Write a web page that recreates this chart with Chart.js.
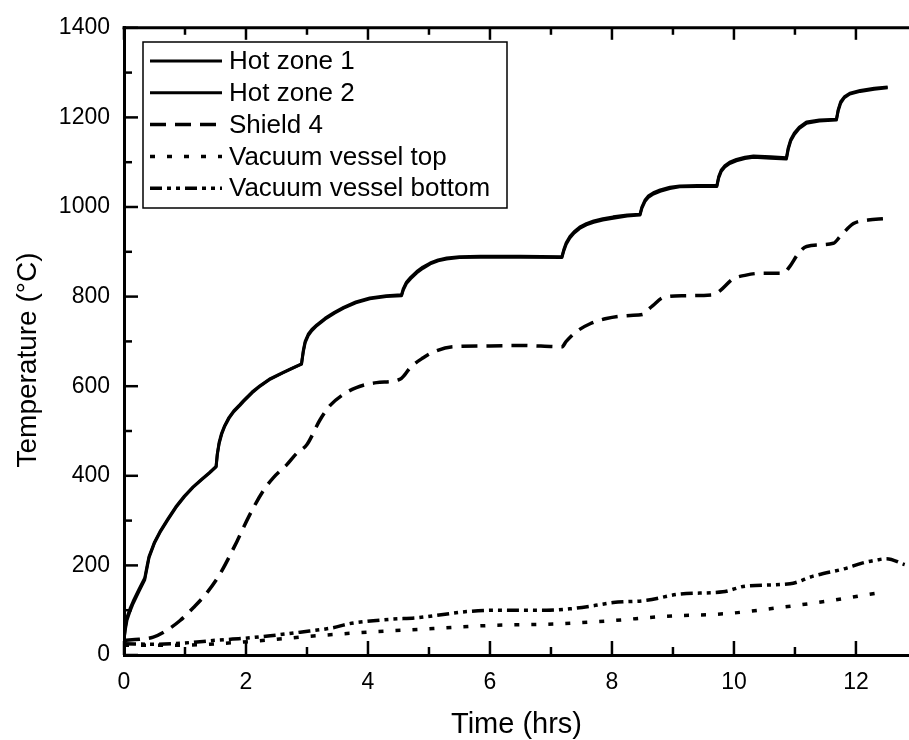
<!DOCTYPE html>
<html><head><meta charset="utf-8">
<script src="https://cdn.jsdelivr.net/npm/chart.js@4/dist/chart.umd.min.js"></script>
<style>html,body{margin:0;padding:0;background:#fff}#wrap{width:909px;height:740px}</style>
</head><body><div id="wrap"><canvas id="c" width="909" height="740"></canvas></div>
<script>
// ---- data (time in hrs, temperature in °C) ----
const seriesNames = ["Hot zone 1", "Hot zone 2", "Shield 4", "Vacuum vessel top", "Vacuum vessel bottom"];

const hotZoneTime = [0,0.02,0.05,0.1,0.15,0.25,0.34,0.38,0.41,0.5,0.6,0.72,0.85,0.99,1.13,1.27,1.4,1.51,1.53,1.56,1.6,1.65,1.72,1.8,1.9,1.96,2.1,2.23,2.4,2.61,2.75,2.91,2.94,2.97,3.02,3.08,3.16,3.3,3.45,3.6,3.8,4.03,4.3,4.55,4.58,4.63,4.7,4.8,4.9,5.02,5.15,5.29,5.5,5.84,6.5,7.18,7.21,7.25,7.31,7.38,7.47,7.58,7.7,7.85,8.02,8.25,8.46,8.49,8.54,8.6,8.68,8.79,8.95,9.11,9.4,9.72,9.75,9.79,9.85,9.93,10.04,10.18,10.32,10.6,10.86,10.89,10.93,10.99,11.07,11.19,11.4,11.68,11.71,11.75,11.81,11.9,12.07,12.3,12.52];
const hz1Temp = [30,60,85,104,120,148,172,200,220,252,278,304,331,355,375,392,407,421,450,475,495,512,530,545,559,568,587,601,617,631,640,650,680,700,716,727,737,752,765,776,788,797,802,804,818,832,843,856,866,875,882,886,889,890,890,889,905,920,934,945,955,963,969,974,978,982,984,1000,1015,1025,1032,1038,1044,1047,1048,1048,1068,1082,1092,1100,1106,1111,1114,1112,1110,1132,1150,1165,1178,1190,1194,1196,1218,1235,1246,1254,1260,1265,1268];
const hz2Temp = [36,55,78,98,115,143,168,196,217,250,276,302,329,353,374,391,406,420,447,472,492,510,528,543,557,566,585,600,616,630,639,649,677,697,713,724,735,750,763,774,786,795,800,802,815,829,840,853,863,873,880,884,887,888,888,887,902,917,931,942,952,960,966,971,975,980,982,997,1012,1022,1029,1035,1041,1045,1046,1046,1065,1079,1089,1097,1103,1108,1111,1109,1107,1129,1147,1162,1175,1187,1192,1194,1215,1232,1244,1252,1258,1263,1266];

const shieldTime = [0,0.25,0.48,0.7,0.92,1.14,1.36,1.57,1.85,2.05,2.28,2.45,2.67,2.83,3.0,3.21,3.38,3.6,3.81,4.14,4.52,4.6,4.69,4.9,5.1,5.39,6.0,6.49,7.18,7.25,7.42,7.65,7.91,8.3,8.5,8.6,8.67,8.84,9.16,9.66,9.77,9.98,10.2,10.43,10.8,10.92,11.05,11.19,11.63,11.74,11.96,12.2,12.45,12.55];
const shieldTemp = [33,35,40,55,77,106,139,180,253,310,366,396,425,450,470,524,557,582,597,608,615,625,641,663,678,688,690,691,688,700,722,740,751,758,760,772,780,798,802,804,813,839,848,852,852,868,895,912,919,934,963,971,974,975];

const vtopTime = [0,0.5,1.0,1.5,2.34,2.89,3.98,5.07,6.0,7.2,8.02,8.84,9.93,10.75,11.57,12.34,12.45];
const vtopTemp = [22,22,22,25,33,40,51,59,66,70,77,86,93,106,121,138,140];

const vbotTime = [0,0.5,1.0,1.52,1.95,2.4,2.89,3.43,3.7,3.98,4.4,4.8,5.2,5.62,6.11,6.93,7.31,7.7,8.02,8.57,9.11,9.82,10.2,10.92,11.3,11.85,12.1,12.34,12.5,12.8];
const vbotTemp = [25,24,27,33,37,43,51,61,70,75,80,83,90,97,100,100,103,110,117,122,136,141,154,159,176,194,205,212,215,202];

const xTicks = [0,2,4,6,8,10,12];
const xMinorTicks = [1,3,5,7,9,11];
const yTicks = [0,200,400,600,800,1000,1200,1400];
const yMinorTicks = [100,300,500,700,900,1100,1300];
const xTitle = 'Time (hrs)';
const yTitle = 'Temperature (°C)';

const FONT = "'Liberation Sans', Arial, Helvetica, sans-serif";
const toPts = (t, v) => t.map((x, i) => ({x: x, y: v[i]}));

const styles = [
  {dash: [], width: 3, mode: 'default'},
  {dash: [], width: 3, mode: 'default'},
  {dash: [16, 9], width: 3.5, mode: 'monotone'},
  {dash: [5, 12], width: 3.5, mode: 'monotone'},
  {dash: [12, 5, 4, 5, 4, 5], width: 3.5, mode: 'monotone'}
];
const seriesPts = [toPts(hotZoneTime, hz1Temp), toPts(hotZoneTime, hz2Temp), toPts(shieldTime, shieldTemp), toPts(vtopTime, vtopTemp), toPts(vbotTime, vbotTemp)];

const datasets = seriesNames.map((n, i) => ({
  label: n,
  data: seriesPts[i],
  borderColor: '#000',
  backgroundColor: '#000',
  borderWidth: styles[i].width,
  borderDash: styles[i].dash,
  borderJoinStyle: 'round',
  pointRadius: 0,
  tension: 0,
  cubicInterpolationMode: styles[i].mode,
  fill: false
}));

const tickPlugin = {
  id: 'inwardTicks',
  afterDatasetsDraw(chart) {
    const ctx = chart.ctx, a = chart.chartArea;
    const xs = chart.scales.x, ys = chart.scales.y;
    ctx.save();
    ctx.strokeStyle = '#000';
    // top border
    ctx.lineWidth = 3;
    ctx.beginPath(); ctx.moveTo(a.left - 1.5, a.top); ctx.lineTo(a.right, a.top); ctx.stroke();
    ctx.lineWidth = 2.5;
    const tick = (x1, y1, x2, y2) => { ctx.beginPath(); ctx.moveTo(x1, y1); ctx.lineTo(x2, y2); ctx.stroke(); };
    xTicks.forEach(v => { const p = xs.getPixelForValue(v); tick(p, a.bottom, p, a.bottom - 14); tick(p, a.top, p, a.top + 12); });
    xMinorTicks.forEach(v => { const p = xs.getPixelForValue(v); tick(p, a.bottom, p, a.bottom - 8); tick(p, a.top, p, a.top + 7); });
    yTicks.forEach(v => { const p = ys.getPixelForValue(v); tick(a.left, p, a.left + 14, p); });
    yMinorTicks.forEach(v => { const p = ys.getPixelForValue(v); tick(a.left, p, a.left + 8, p); });
    // y axis title (rotated)
    ctx.save();
    ctx.fillStyle = '#000';
    ctx.font = '28px ' + FONT;
    ctx.textAlign = 'center';
    ctx.textBaseline = 'middle';
    ctx.translate(28, 360);
    ctx.rotate(-Math.PI / 2);
    ctx.fillText(yTitle, 0, 0);
    ctx.restore();
    // legend
    const bx = 143, by = 42, bw = 364, bh = 166;
    ctx.fillStyle = '#fff';
    ctx.fillRect(bx, by, bw, bh);
    ctx.lineWidth = 1.5;
    ctx.strokeRect(bx, by, bw, bh);
    ctx.font = '26px ' + FONT;
    ctx.textBaseline = 'middle';
    ctx.textAlign = 'left';
    chart.data.datasets.forEach((ds, i) => {
      const cy = by + 19 + i * 31.8;
      ctx.lineWidth = ds.borderWidth;
      ctx.setLineDash(ds.borderDash);
      ctx.beginPath(); ctx.moveTo(bx + 7, cy); ctx.lineTo(bx + 79, cy); ctx.stroke();
      ctx.setLineDash([]);
      ctx.fillStyle = '#000';
      ctx.fillText(ds.label, bx + 86, cy + 1);
    });
    ctx.restore();
  }
};

new Chart(document.getElementById('c'), {
  type: 'line',
  data: {datasets: datasets},
  options: {
    responsive: false,
    animation: false,
    devicePixelRatio: 1,
    layout: {padding: {top: 18, right: 0, bottom: 0, left: 0}},
    plugins: {legend: {display: false}, tooltip: {enabled: false}},
    scales: {
      x: {
        type: 'linear', min: 0, max: 12.87,
        afterBuildTicks: s => { s.ticks = xTicks.map(v => ({value: v})); },
        afterFit: s => { s.height = 85; },
        grid: {display: true, drawOnChartArea: false, drawTicks: false},
        border: {display: true, color: '#000', width: 3},
        ticks: {color: '#000', padding: 14, maxRotation: 0, font: {family: FONT, size: 23}, callback: v => String(v)},
        title: {display: true, text: xTitle, color: '#000', font: {family: FONT, size: 29}, padding: {top: 0, bottom: -2}}
      },
      y: {
        type: 'linear', min: 0, max: 1400,
        afterBuildTicks: s => { s.ticks = yTicks.map(v => ({value: v})); },
        afterFit: s => { s.width = 124; },
        grid: {display: true, drawOnChartArea: false, drawTicks: false},
        border: {display: true, color: '#000', width: 3},
        ticks: {color: '#000', padding: 14, font: {family: FONT, size: 23}, callback: v => String(v)},
        title: {display: false, text: yTitle}
      }
    }
  },
  plugins: [tickPlugin]
});
</script>
</body></html>
